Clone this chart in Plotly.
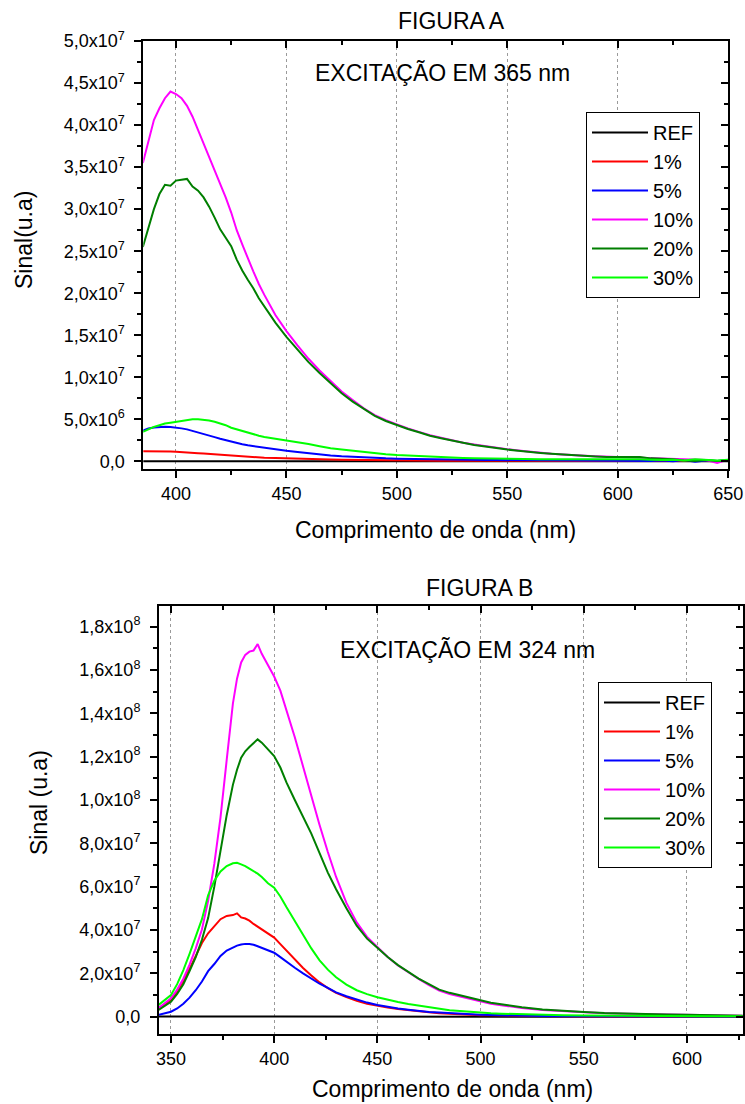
import numpy as np
import plotly.graph_objects as go

# ---------------- data ----------------
series_names = ["REF", "1%", "5%", "10%", "20%", "30%"]
series_colors = ["#000000", "#FF0000", "#0000FF", "#FF00FF", "#007F00", "#00FF00"]

# Figure A - excitation at 365 nm (signal in units of 1e6)
wl_a = [385, 387.5, 390, 392.5, 395, 397.5, 400, 402.5, 405, 407.5,
        410, 412.5, 415, 417.5, 420, 422.5, 425, 427.5, 430, 432.5,
        435, 437.5, 440, 445, 450, 455, 460, 465, 470, 475,
        480, 485, 490, 495, 500, 505, 510, 515, 520, 525,
        530, 535, 540, 545, 550, 555, 560, 565, 570, 575,
        580, 585, 590, 595, 600, 605, 610, 615, 620, 625,
        630, 635, 640, 645, 650]

ref_a = [0.02, 0.01, 0.03, 0.02, 0.01, 0.02, 0.03, 0.02, 0.01, 0.02,
         0.02, 0.01, 0.02, 0.01, 0.02, 0.01, 0.02, 0.01, 0.01, 0.02,
         0.01, 0.01, 0.02, 0.01, 0.01, 0.02, 0.01, 0.00, 0.01, 0.01,
         0.00, 0.01, 0.00, 0.01, 0.00, 0.01, 0.00, 0.00, 0.01, 0.00,
         0.00, 0.01, 0.00, 0.00, 0.01, 0.00, 0.00, 0.00, 0.01, 0.00,
         0.00, 0.00, 0.01, 0.00, 0.00, 0.00, 0.01, 0.00, 0.00, 0.00,
         0.00, 0.01, 0.00, 0.00, 0.00]

red_a = [1.20, 1.21, 1.19, 1.20, 1.17, 1.16, 1.13, 1.11, 1.06, 1.02,
         0.97, 0.92, 0.87, 0.82, 0.77, 0.72, 0.67, 0.62, 0.57, 0.53,
         0.49, 0.46, 0.43, 0.38, 0.33, 0.29, 0.26, 0.23, 0.21, 0.19,
         0.17, 0.15, 0.13, 0.12, 0.11, 0.10, 0.09, 0.09, 0.08, 0.08,
         0.07, 0.07, 0.06, 0.07, 0.06, 0.05, 0.06, 0.05, 0.05, 0.04,
         0.05, 0.04, 0.05, 0.03, 0.04, 0.05, 0.03, 0.04, 0.06, 0.02,
         0.05, 0.03, 0.08, 0.02, 0.10]

blue_a = [3.65, 3.90, 4.02, 4.08, 4.10, 4.07, 4.02, 3.92, 3.80, 3.63,
          3.46, 3.27, 3.08, 2.88, 2.68, 2.50, 2.33, 2.17, 2.03, 1.90,
          1.80, 1.70, 1.60, 1.42, 1.25, 1.10, 0.95, 0.82, 0.70, 0.60,
          0.52, 0.45, 0.40, 0.35, 0.32, 0.29, 0.26, 0.23, 0.21, 0.19,
          0.18, 0.17, 0.16, 0.15, 0.14, 0.13, 0.12, 0.12, 0.11, 0.10,
          0.10, 0.10, 0.08, 0.10, 0.12, 0.10, 0.08, 0.05, 0.10, 0.00,
          0.15, -0.05, 0.10, 0.05, 0.15]

magenta_a = [35.5, 38.2, 40.6, 42.0, 43.2, 44.0, 43.7, 43.2, 42.3, 41.0,
             39.4, 38.0, 36.2, 34.8, 33.1, 31.4, 29.6, 27.5, 25.8, 24.1,
             22.6, 21.1, 19.8, 17.4, 15.5, 13.8, 12.2, 10.8, 9.5, 8.3,
             7.3, 6.3, 5.5, 4.9, 4.4, 3.9, 3.5, 3.1, 2.8, 2.5,
             2.2, 2.0, 1.8, 1.6, 1.45, 1.3, 1.15, 1.0, 0.9, 0.8,
             0.7, 0.65, 0.6, 0.55, 0.5, 0.45, 0.4, 0.4, 0.3, 0.3,
             0.25, 0.2, 0.15, -0.2, 0.2]

green_a = [25.5, 27.8, 30.0, 31.8, 32.9, 32.8, 33.4, 33.5, 33.6, 32.7,
           32.2, 31.4, 30.3, 29.0, 27.6, 26.6, 25.6, 24.0, 22.7, 21.6,
           20.6, 19.4, 18.4, 16.5, 14.8, 13.3, 11.8, 10.5, 9.3, 8.1,
           7.1, 6.2, 5.4, 4.8, 4.3, 3.85, 3.45, 3.05, 2.75, 2.45,
           2.2, 1.95, 1.75, 1.55, 1.4, 1.25, 1.1, 1.0, 0.9, 0.8,
           0.7, 0.62, 0.58, 0.5, 0.48, 0.45, 0.5, 0.35, 0.3, 0.25,
           0.1, 0.05, 0.15, 0.05, 0.1]

lime_a = [3.5, 3.8, 4.1, 4.3, 4.5, 4.6, 4.7, 4.8, 4.9, 5.0,
          5.0, 4.95, 4.85, 4.7, 4.5, 4.3, 4.0, 3.8, 3.6, 3.4,
          3.2, 3.05, 2.9, 2.7, 2.45, 2.25, 2.05, 1.8, 1.55, 1.4,
          1.25, 1.1, 0.95, 0.85, 0.75, 0.68, 0.6, 0.54, 0.49, 0.44,
          0.4, 0.36, 0.33, 0.31, 0.29, 0.28, 0.27, 0.26, 0.25, 0.25,
          0.24, 0.24, 0.25, 0.26, 0.28, 0.3, 0.25, 0.2, 0.15, 0.2,
          0.1, 0.25, 0.15, 0.1, 0.2]

# Figure B - excitation at 324 nm (signal in units of 1e6)
wl_b = [344, 347, 350, 353, 356, 359, 362, 365, 368, 371,
        374, 377, 380, 382, 384, 386, 388, 390, 392, 394,
        397, 400, 403, 406, 410, 414, 418, 422, 426, 430,
        435, 440, 445, 450, 455, 460, 465, 470, 475, 480,
        485, 490, 495, 500, 505, 510, 520, 530, 540, 550,
        560, 570, 580, 590, 600, 610, 620, 627]

ref_b = [0.05, 0.03, 0.06, 0.04, 0.05, 0.03, 0.06, 0.04, 0.05, 0.03,
         0.04, 0.05, 0.03, 0.04, 0.05, 0.03, 0.04, 0.05, 0.03, 0.04,
         0.05, 0.03, 0.04, 0.03, 0.04, 0.03, 0.04, 0.03, 0.03, 0.04,
         0.03, 0.02, 0.03, 0.02, 0.03, 0.02, 0.02, 0.03, 0.02, 0.02,
         0.02, 0.01, 0.02, 0.01, 0.02, 0.01, 0.01, 0.02, 0.01, 0.01,
         0.01, 0.01, 0.00, 0.01, 0.00, 0.01, 0.00, 0.00]

red_b = [3.9, 5.7, 7.7, 11.8, 16.5, 22.0, 28.0, 34.0, 38.5, 42.0,
         45.0, 46.5, 46.9, 47.7, 45.8, 45.3, 44.3, 42.8, 41.5, 40.3,
         38.3, 36.5, 33.5, 30.5, 26.5, 22.5, 19.0, 15.8, 13.2, 11.0,
         9.0, 7.3, 6.0, 5.0, 4.2, 3.5, 2.9, 2.4, 2.0, 1.6,
         1.3, 1.1, 0.9, 0.7, 0.6, 0.5, 0.35, 0.25, 0.18, 0.12,
         0.1, 0.08, 0.07, 0.06, 0.05, 0.05, 0.04, 0.04]

blue_b = [0.8, 1.4, 2.3, 3.8, 6.0, 8.8, 12.2, 16.2, 21.0, 24.3,
          28.0, 30.5, 32.0, 32.8, 33.3, 33.6, 33.5, 33.2, 32.5, 31.8,
          30.4, 29.5, 27.5, 25.3, 22.6, 20.0, 17.6, 15.2, 13.3, 11.2,
          9.4, 7.8, 6.5, 5.4, 4.5, 3.8, 3.2, 2.6, 2.2, 1.9,
          1.6, 1.3, 1.1, 0.9, 0.75, 0.6, 0.4, 0.3, 0.2, 0.15,
          0.12, 0.1, 0.1, 0.08, 0.08, 0.06, 0.05, 0.05]

magenta_b = [3.9, 6.0, 8.5, 12.5, 17.5, 24.0, 31.5, 40.2, 53.5, 70.5,
             92.0, 118.5, 144.5, 156.0, 163.5, 167.0, 168.5, 169.0, 172.0, 167.5,
             162.5, 157.0, 150.5, 141.5, 129.0, 115.5, 101.5, 88.5, 76.0, 64.5,
             52.5, 43.5, 36.8, 32.0, 27.5, 23.6, 20.3, 17.4, 14.6, 12.0,
             10.5, 9.4, 8.2, 7.0, 6.0, 5.3, 4.0, 3.1, 2.5, 2.0,
             1.6, 1.3, 1.1, 0.9, 0.75, 0.6, 0.45, 0.4]

green_b = [3.1, 4.8, 6.9, 10.5, 15.0, 21.0, 27.5, 35.5, 45.5, 60.0,
           76.5, 93.0, 107.0, 114.0, 119.5, 122.5, 124.5, 126.5, 128.0, 126.5,
           123.5, 120.3, 115.0, 108.0, 100.0, 92.5, 84.5, 75.5, 66.5, 58.8,
           50.0, 42.0, 36.0, 31.8, 27.5, 23.8, 20.5, 17.6, 15.0, 12.5,
           11.0, 9.9, 8.6, 7.4, 6.4, 5.7, 4.3, 3.3, 2.6, 2.2,
           1.7, 1.4, 1.2, 1.0, 0.85, 0.65, 0.5, 0.45]

lime_b = [5.4, 7.5, 10.0, 15.0, 21.5, 29.0, 37.0, 45.0, 56.0, 62.8,
          67.0, 69.5, 70.8, 71.0, 70.3, 69.5, 68.3, 67.2, 66.0, 64.5,
          61.6, 59.5, 55.5, 50.5, 44.0, 37.5, 31.5, 26.0, 21.7, 18.2,
          14.8, 12.2, 10.4, 9.0, 7.8, 6.8, 5.9, 5.1, 4.4, 3.6,
          3.0, 2.6, 2.2, 1.9, 1.6, 1.4, 1.05, 0.8, 0.6, 0.5,
          0.4, 0.35, 0.3, 0.3, 0.25, 0.2, 0.2, 0.2]

# axis ticks
xticks_a = [400, 450, 500, 550, 600, 650]
yticks_a = [0, 5e6, 1e7, 1.5e7, 2e7, 2.5e7, 3e7, 3.5e7, 4e7, 4.5e7, 5e7]
ytext_a = ["0,0", "5,0x10<sup>6</sup>", "1,0x10<sup>7</sup>", "1,5x10<sup>7</sup>",
           "2,0x10<sup>7</sup>", "2,5x10<sup>7</sup>", "3,0x10<sup>7</sup>",
           "3,5x10<sup>7</sup>", "4,0x10<sup>7</sup>", "4,5x10<sup>7</sup>",
           "5,0x10<sup>7</sup>"]

xticks_b = [350, 400, 450, 500, 550, 600]
yticks_b = [0, 2e7, 4e7, 6e7, 8e7, 1e8, 1.2e8, 1.4e8, 1.6e8, 1.8e8]
ytext_b = ["0,0", "2,0x10<sup>7</sup>", "4,0x10<sup>7</sup>", "6,0x10<sup>7</sup>",
           "8,0x10<sup>7</sup>", "1,0x10<sup>8</sup>", "1,2x10<sup>8</sup>",
           "1,4x10<sup>8</sup>", "1,6x10<sup>8</sup>", "1,8x10<sup>8</sup>"]

UNIT = 1e6
FONT = "Liberation Sans, Arial, sans-serif"
W, H = 745, 1104

fig = go.Figure()

series_a = [ref_a, red_a, blue_a, magenta_a, green_a, lime_a]
series_b = [ref_b, red_b, blue_b, magenta_b, green_b, lime_b]

for name, color, vals in zip(series_names, series_colors, series_a):
    fig.add_trace(go.Scatter(x=wl_a, y=np.array(vals) * UNIT, mode="lines", name=name,
                             line=dict(color=color, width=2), xaxis="x", yaxis="y",
                             legend="legend"))
for name, color, vals in zip(series_names, series_colors, series_b):
    fig.add_trace(go.Scatter(x=wl_b, y=np.array(vals) * UNIT, mode="lines", name=name,
                             line=dict(color=color, width=2), xaxis="x2", yaxis="y2",
                             legend="legend2"))


def px_x(p):
    return p / W


def px_y(p):
    return 1 - p / H


tickfont = dict(family=FONT, size=18, color="black")


def main_x(domain, rng, ticks, anchor):
    return dict(domain=domain, range=rng, anchor=anchor, tickvals=ticks, automargin=False,
                ticks="outside", ticklen=7, tickwidth=1.5, tickcolor="black",
                showline=True, linewidth=2, linecolor="black", mirror=False,
                showgrid=True, gridcolor="#9a9a9a", gridwidth=1, griddash="3px,3px",
                zeroline=False, tickfont=tickfont,
                minor=dict(dtick=25, tick0=0, ticks="outside", ticklen=4,
                           tickwidth=1.5, tickcolor="black", showgrid=False))


def mirror_x(over, rng, ticks, anchor):
    return dict(overlaying=over, side="top", range=rng, anchor=anchor, tickvals=ticks,
                automargin=False,
                ticks="inside", ticklen=7, tickwidth=1.5, tickcolor="black",
                showticklabels=False, showline=True, linewidth=2, linecolor="black",
                showgrid=False, zeroline=False,
                minor=dict(dtick=25, tick0=0, ticks="inside", ticklen=4,
                           tickwidth=1.5, tickcolor="black", showgrid=False))


def main_y(domain, rng, ticks, text, mdt, anchor):
    return dict(domain=domain, range=rng, anchor=anchor, tickvals=ticks, ticktext=text,
                automargin=False,
                ticks="outside", ticklen=7, tickwidth=1.5, tickcolor="black",
                showline=True, linewidth=2, linecolor="black", showgrid=False,
                zeroline=False, tickfont=tickfont, ticklabelstandoff=6,
                minor=dict(dtick=mdt, tick0=0, ticks="outside", ticklen=4,
                           tickwidth=1.5, tickcolor="black", showgrid=False))


def mirror_y(over, rng, ticks, mdt, anchor):
    return dict(overlaying=over, side="right", range=rng, anchor=anchor, tickvals=ticks,
                automargin=False,
                ticks="inside", ticklen=7, tickwidth=1.5, tickcolor="black",
                showticklabels=False, showline=True, linewidth=2, linecolor="black",
                showgrid=False, zeroline=False,
                minor=dict(dtick=mdt, tick0=0, ticks="inside", ticklen=4,
                           tickwidth=1.5, tickcolor="black", showgrid=False))


dom_xa = [px_x(143.3), px_x(728.3)]
dom_ya = [px_y(469.3), px_y(41)]
dom_xb = [px_x(159), px_x(743.3)]
dom_yb = [px_y(1034), px_y(605.7)]

rng_xa = [385.2, 650.05]
rng_ya = [-0.95e6, 5.001e7]
rng_xb = [344.2, 627.3]
rng_yb = [-8.0e6, 1.897e8]

legend_style = dict(bordercolor="black", borderwidth=1, bgcolor="white",
                    font=dict(family=FONT, size=20, color="black"),
                    xanchor="left", yanchor="top", tracegroupgap=0, itemwidth=56)

fig.update_layout(
    template="none",
    width=W, height=H,
    margin=dict(l=0, r=0, t=0, b=0, autoexpand=False),
    paper_bgcolor="white", plot_bgcolor="white",
    font=dict(family=FONT, color="black"),
    xaxis=main_x(dom_xa, rng_xa, xticks_a, "y"),
    xaxis3=mirror_x("x", rng_xa, xticks_a, "y"),
    yaxis=main_y(dom_ya, rng_ya, yticks_a, ytext_a, 2.5e6, "x"),
    yaxis3=mirror_y("y", rng_ya, yticks_a, 2.5e6, "x"),
    xaxis2=main_x(dom_xb, rng_xb, xticks_b, "y2"),
    xaxis4=mirror_x("x2", rng_xb, xticks_b, "y2"),
    yaxis2=main_y(dom_yb, rng_yb, yticks_b, ytext_b, 1e7, "x2"),
    yaxis4=mirror_y("y2", rng_yb, yticks_b, 1e7, "x2"),
    legend=dict(x=px_x(586), y=px_y(112), **legend_style),
    legend2=dict(x=px_x(598), y=px_y(682), **legend_style),
    showlegend=True,
)

# empty traces so the mirror axes get drawn
fig.add_trace(go.Scatter(x=[], y=[], xaxis="x3", yaxis="y3", showlegend=False))
fig.add_trace(go.Scatter(x=[], y=[], xaxis="x4", yaxis="y4", showlegend=False))

big = dict(family=FONT, size=23, color="black")
texts = [
    ("FIGURA A", 451, 21, 0, "middle"),
    ("EXCITAÇÃO EM 365 nm", 442, 73, 0, "middle"),
    ("Comprimento de onda (nm)", 435, 530, 0, "middle"),
    ("Sinal(u.a)", 24, 240, -90, "middle"),
    ("FIGURA B", 479.5, 588, 0, "middle"),
    ("EXCITAÇÃO EM 324 nm", 467, 650, 0, "middle"),
    ("Comprimento de onda (nm)", 452, 1104, 0, "bottom"),
    ("Sinal (u.a)", 39, 803, -90, "middle"),
]
for txt, x, y, ang, ya in texts:
    fig.add_annotation(text=txt, x=px_x(x), y=px_y(y), xref="paper", yref="paper",
                       xanchor="center", yanchor=ya, showarrow=False,
                       textangle=ang, font=big)

fig.write_html("out.html")
